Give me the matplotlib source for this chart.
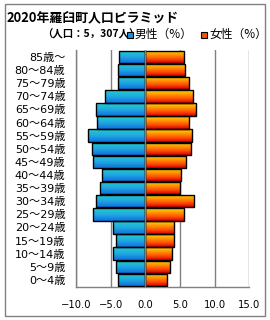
import numpy as np
import matplotlib
matplotlib.use("Agg")
import matplotlib.pyplot as plt
from matplotlib.patches import Rectangle
from matplotlib.colors import LinearSegmentedColormap

plt.rcParams['font.family'] = ['Noto Sans CJK JP', 'DejaVu Sans']

# data (bottom to top)
age_labels = ["0～4歳", "5～9歳", "10～14歳", "15～19歳", "20～24歳", "25～29歳",
              "30～34歳", "35～39歳", "40～44歳", "45～49歳", "50～54歳", "55～59歳",
              "60～64歳", "65～69歳", "70～74歳", "75～79歳", "80～84歳", "85歳～"]
male = [-3.9, -4.2, -4.7, -4.2, -4.7, -7.5, -7.15, -6.5, -6.3, -7.6, -7.7, -8.2,
        -6.9, -7.15, -5.75, -4.0, -4.0, -3.75]
female = [3.15, 3.6, 3.9, 4.2, 4.2, 5.6, 7.05, 5.05, 5.2, 5.9, 6.6, 6.75,
          6.35, 7.35, 6.9, 6.35, 5.75, 5.6]
xticks = [-10, -5, 0, 5, 10, 15]
title = "2020年羅臼町人口ピラミッド"
subtitle = "（人口：5，307人）"
legend_labels = ["男性（%）", "女性（%）"]

W, H = 270, 320
fig = plt.figure(figsize=(W / 100, H / 100), dpi=100)

# outer frame
fig.patches.append(Rectangle((5 / W, 1 - 316 / H), 260 / W, 312 / H, transform=fig.transFigure,
                             fill=False, edgecolor='#808080', linewidth=1.0))

ax = fig.add_axes([76 / W, 1 - 286.5 / H, (249.3 - 76) / W, (286.5 - 50.4) / H])
y = np.arange(len(age_labels))

male_cmap = LinearSegmentedColormap.from_list('m', ['#1070e0', '#20a8e0', '#20d0d0'])
fem_cmap = LinearSegmentedColormap.from_list('f', ['#d80000', '#ff5000', '#ff9800', '#ffd800'])
grad = np.linspace(0, 1, 64).reshape(-1, 1)

bh = 0.95
for vals, cmap in ((male, male_cmap), (female, fem_cmap)):
    bars = ax.barh(y, vals, height=bh, color='none', edgecolor='black', linewidth=1.0, zorder=3)
    for b in bars:
        x0, yb = b.get_x(), b.get_y()
        w, hgt = b.get_width(), b.get_height()
        im = ax.imshow(grad, cmap=cmap, origin='lower', aspect='auto',
                       extent=(min(x0, x0 + w), max(x0, x0 + w), yb, yb + hgt), zorder=2)
        im.set_clip_path(b)

ax.set_xlim(-10, 15)
ax.set_ylim(-0.5, len(age_labels) - 0.5)
ax.set_xticks(xticks)
ax.set_xticklabels([f"{v:.1f}".replace('-', '−') for v in xticks], fontsize=7.2,
                   family=['DejaVu Sans', 'Noto Sans CJK JP'])
ax.set_yticks(y)
ax.set_yticklabels(age_labels, fontsize=8, family=['DejaVu Sans', 'Noto Sans CJK JP'])
ax.tick_params(axis='y', length=0, pad=7.7)
ax.tick_params(axis='x', length=0, pad=9.5)
ax.grid(axis='x', color='#808080', linewidth=1.0, zorder=1)
ax.axvline(0, color='#808080', linewidth=1.0, zorder=4)
ax.set_axisbelow(True)
for s in ['top', 'right']:
    ax.spines[s].set_visible(False)
for s in ['left', 'bottom']:
    ax.spines[s].set_color('#808080')
    ax.spines[s].set_linewidth(1.0)

# titles
fig.text(7 / W, 1 - 17.5 / H, title, fontsize=9.3, fontweight='bold', va='center', ha='left')
fig.text(42 / W, 1 - 34.5 / H, subtitle, fontsize=7.5, fontweight='bold', va='center', ha='left')

# legend
for xpos, lab, col in ((130, legend_labels[0], '#1890e0'), (204, legend_labels[1], '#ff5000')):
    fig.patches.append(Rectangle(((xpos - 3) / W, 1 - 38 / H), 6 / W, 6 / H, transform=fig.transFigure,
                                 facecolor=col, edgecolor='black', linewidth=0.8, zorder=5))
    fig.text((xpos + 5) / W, 1 - 34.5 / H, lab, fontsize=8.5, va='center', ha='left')

fig.savefig('out.png', dpi=100)
